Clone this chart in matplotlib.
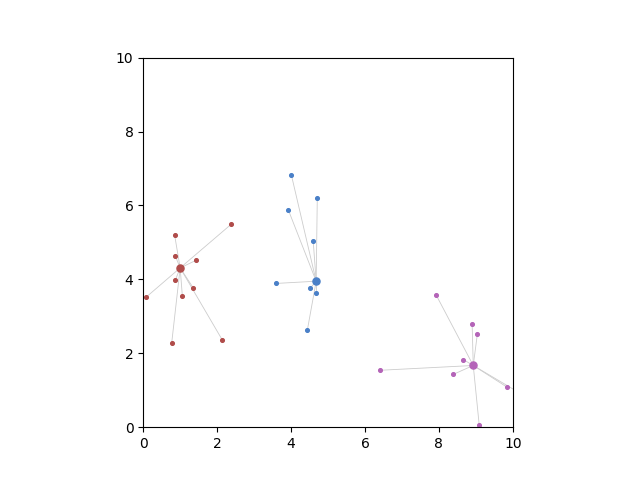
import matplotlib
matplotlib.use("Agg")
import matplotlib.pyplot as plt

# cluster centres
center_x = [1.00, 4.68, 8.93]
center_y = [4.31, 3.95, 1.67]
colors = ["#b04c4a", "#4a80c8", "#b464b8"]

# member points for each cluster
red_x = [2.38, 0.85, 0.87, 1.44, 0.87, 1.36, 1.06, 0.07, 0.77, 2.14]
red_y = [5.49, 5.20, 4.63, 4.52, 3.98, 3.76, 3.54, 3.51, 2.27, 2.36]
blue_x = [4.01, 4.71, 3.93, 4.60, 3.60, 4.52, 4.68, 4.44]
blue_y = [6.82, 6.20, 5.87, 5.03, 3.89, 3.76, 3.62, 2.62]
purple_x = [7.93, 8.90, 9.04, 8.66, 6.41, 8.39, 9.85, 9.09, 10.40]
purple_y = [3.57, 2.78, 2.51, 1.83, 1.54, 1.43, 1.08, 0.07, 0.80]

members = [(red_x, red_y), (blue_x, blue_y), (purple_x, purple_y)]

fig, ax = plt.subplots(figsize=(6.4, 4.8), dpi=100)

for (mx, my), cx, cy, col in zip(members, center_x, center_y, colors):
    # spokes from centre to each member
    for px, py in zip(mx, my):
        ax.plot([cx, px], [cy, py], color="#cccccc", linewidth=0.6, zorder=1)
    ax.scatter(mx, my, s=7, color=col, zorder=2)
    ax.scatter([cx], [cy], s=26, color=col, zorder=3)

ax.set_xlim(0, 10)
ax.set_ylim(0, 10)
ax.set_aspect("equal")

plt.savefig("out.png", dpi=100)
